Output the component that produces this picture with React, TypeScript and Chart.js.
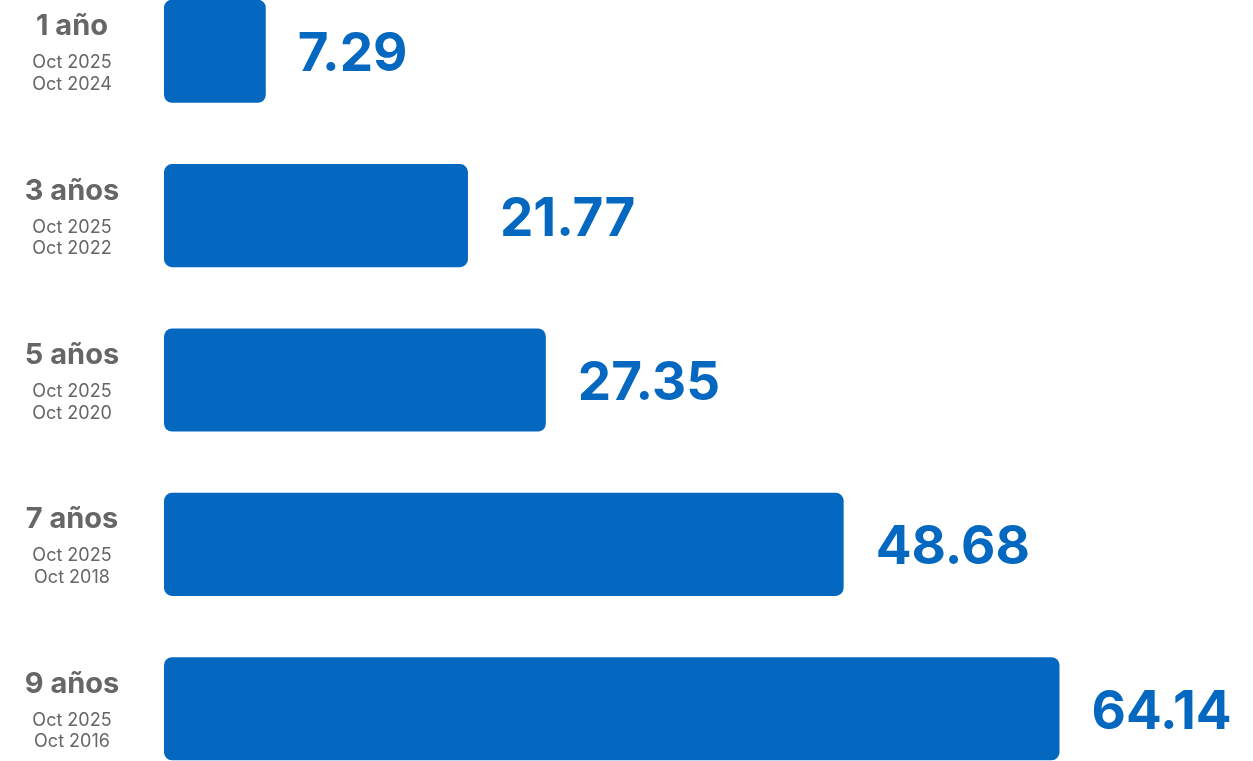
import React, { useEffect, useRef } from "react";
import { Chart, registerables } from "chart.js";

Chart.register(...registerables);

const periods = ["1 año", "3 años", "5 años", "7 años", "9 años"];
const endDates = ["Oct 2025", "Oct 2025", "Oct 2025", "Oct 2025", "Oct 2025"];
const startDates = ["Oct 2024", "Oct 2022", "Oct 2020", "Oct 2018", "Oct 2016"];
const returns = [7.29, 21.77, 27.35, 48.68, 64.14];

const BLUE = "#0468C1";
const GRAY = "#666666";
const FONT = "Inter, 'Noto Sans', sans-serif";

const labelsPlugin = {
  id: "customLabels",
  afterDatasetsDraw(chart: any) {
    const ctx = chart.ctx;
    const meta = chart.getDatasetMeta(0);
    ctx.save();
    meta.data.forEach((bar: any, i: number) => {
      // value label
      ctx.fillStyle = BLUE;
      ctx.font = `bold 53px ${FONT}`;
      ctx.textAlign = "left";
      ctx.textBaseline = "alphabetic";
      ctx.fillText(returns[i].toFixed(2), bar.x + 32, bar.y + 20);
      // left category labels
      const cx = 72;
      ctx.textAlign = "center";
      ctx.fillStyle = GRAY;
      ctx.font = `bold 29px ${FONT}`;
      ctx.fillText(periods[i], cx, bar.y - 16);
      ctx.font = `18px ${FONT}`;
      ctx.fillText(endDates[i], cx, bar.y + 17);
      ctx.fillText(startDates[i], cx, bar.y + 38.5);
    });
    ctx.restore();
  },
};

export default function App() {
  const ref = useRef<HTMLCanvasElement>(null);
  useEffect(() => {
    if (!ref.current) return;
    const chart = new Chart(ref.current, {
      type: "bar",
      data: {
        labels: periods,
        datasets: [
          {
            data: returns,
            backgroundColor: BLUE,
            borderRadius: 8,
            borderSkipped: false,
            categoryPercentage: 1,
            barPercentage: 0.627,
          },
        ],
      },
      options: {
        indexAxis: "y",
        animation: false,
        responsive: true,
        maintainAspectRatio: false,
        layout: { padding: { left: 164, right: 0, top: 0, bottom: 0 } },
        plugins: { legend: { display: false }, tooltip: { enabled: false } },
        scales: {
          x: { display: false, min: 0, max: 78 },
          y: { display: false, offset: true },
        },
      },
      plugins: [labelsPlugin],
    });
    return () => chart.destroy();
  }, []);
  return (
    <div
      style={{
        position: "fixed",
        left: 0,
        top: -31,
        width: 1253,
        height: 822,
        background: "#fff",
      }}
    >
      <canvas ref={ref} />
    </div>
  );
}
